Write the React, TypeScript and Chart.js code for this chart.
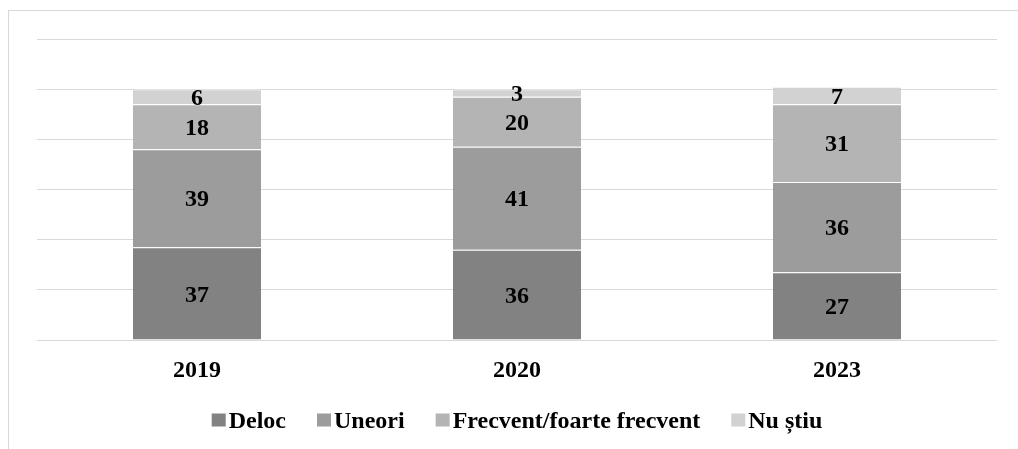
import React, { useEffect, useRef } from "react";
import { Chart, registerables } from "chart.js";

Chart.register(...registerables);

const categories = ["2019", "2020", "2023"];
const seriesNames = ["Deloc", "Uneori", "Frecvent/foarte frecvent", "Nu știu"];
const delocValues = [37, 36, 27];
const uneoriValues = [39, 41, 36];
const frecventValues = [18, 20, 31];
const nuStiuValues = [6, 3, 7];
const seriesColors = ["#828282", "#9c9c9c", "#b4b4b4", "#d2d2d2"];

const FONT_FAMILY = "'Times New Roman', 'Liberation Serif', serif";
const FONT_SIZE = 24;

const valueLabelsPlugin = {
  id: "valueLabels",
  afterDatasetsDraw(chart: any) {
    const ctx = chart.ctx;
    ctx.save();
    ctx.font = `bold ${FONT_SIZE}px ${FONT_FAMILY}`;
    ctx.fillStyle = "#000";
    ctx.textAlign = "center";
    ctx.textBaseline = "middle";
    chart.data.datasets.forEach((ds: any, i: number) => {
      const meta = chart.getDatasetMeta(i);
      meta.data.forEach((bar: any, j: number) => {
        const { x, y, base } = bar.getProps(["x", "y", "base"], true);
        ctx.fillText(String(ds.data[j]), x, (y + base) / 2 + 2);
      });
    });
    ctx.restore();
  },
};

const legendPlugin = {
  id: "customLegend",
  afterDraw(chart: any) {
    const ctx = chart.ctx;
    ctx.save();
    ctx.font = `bold ${FONT_SIZE}px ${FONT_FAMILY}`;
    ctx.textBaseline = "middle";
    ctx.textAlign = "left";
    const boxW = 14;
    const boxH = 13;
    const gap = 3;
    const spacing = 31;
    const items = chart.data.datasets.map((ds: any) => ({
      label: ds.label,
      color: ds.backgroundColor,
      w: boxW + gap + ctx.measureText(ds.label).width,
    }));
    const total = items.reduce((s: number, it: any) => s + it.w, 0) + spacing * (items.length - 1);
    const cx = (chart.chartArea.left + chart.chartArea.right) / 2;
    let x = cx - total / 2;
    const y = 421;
    items.forEach((it: any) => {
      ctx.fillStyle = it.color;
      ctx.fillRect(x, y - boxH / 2 - 1, boxW, boxH);
      ctx.fillStyle = "#000";
      ctx.fillText(it.label, x + boxW + gap, y + 1);
      x += it.w + spacing;
    });
    ctx.restore();
  },
};

export default function App() {
  const canvasRef = useRef<HTMLCanvasElement | null>(null);

  useEffect(() => {
    if (!canvasRef.current) return;
    const values = [delocValues, uneoriValues, frecventValues, nuStiuValues];
    const chart = new Chart(canvasRef.current, {
      type: "bar",
      data: {
        labels: categories,
        datasets: seriesNames.map((name, i) => ({
          label: name,
          data: values[i],
          backgroundColor: seriesColors[i],
          borderColor: "rgba(255,255,255,0.4)",
          borderWidth: { top: 1, bottom: 0, left: 0, right: 0 },
          borderSkipped: false,
          barPercentage: 0.4,
          categoryPercentage: 1,
        })),
      },
      options: {
        animation: false,
        responsive: false,
        maintainAspectRatio: false,
        layout: { padding: { left: 37, right: 21, top: 39, bottom: 0 } },
        plugins: {
          legend: { display: false },
          tooltip: { enabled: false },
        },
        scales: {
          x: {
            stacked: true,
            grid: { display: false, drawTicks: false },
            border: { display: false },
            ticks: {
              color: "#000",
              font: { family: FONT_FAMILY, size: FONT_SIZE, weight: "bold" },
              padding: 16,
            },
            afterFit: (scale: any) => {
              scale.height = 109;
            },
          },
          y: {
            stacked: true,
            min: 0,
            max: 120,
            ticks: { display: false, stepSize: 20 },
            grid: { color: "#d9d9d9", lineWidth: 1, drawTicks: false },
            border: { display: false },
            afterFit: (scale: any) => {
              scale.width = 0;
            },
          },
        },
      },
      plugins: [valueLabelsPlugin, legendPlugin],
    });
    return () => chart.destroy();
  }, []);

  return (
    <div style={{ position: "fixed", left: 0, top: 0, width: 1018, height: 449, background: "#fff", overflow: "hidden" }}>
      <div
        style={{
          position: "absolute",
          left: 8,
          top: 10,
          width: 1030,
          height: 460,
          border: "1px solid #d9d9d9",
          boxSizing: "border-box",
        }}
      />
      <canvas ref={canvasRef} width={1018} height={449} style={{ position: "absolute", left: 0, top: 0, width: 1018, height: 449 }} />
    </div>
  );
}
